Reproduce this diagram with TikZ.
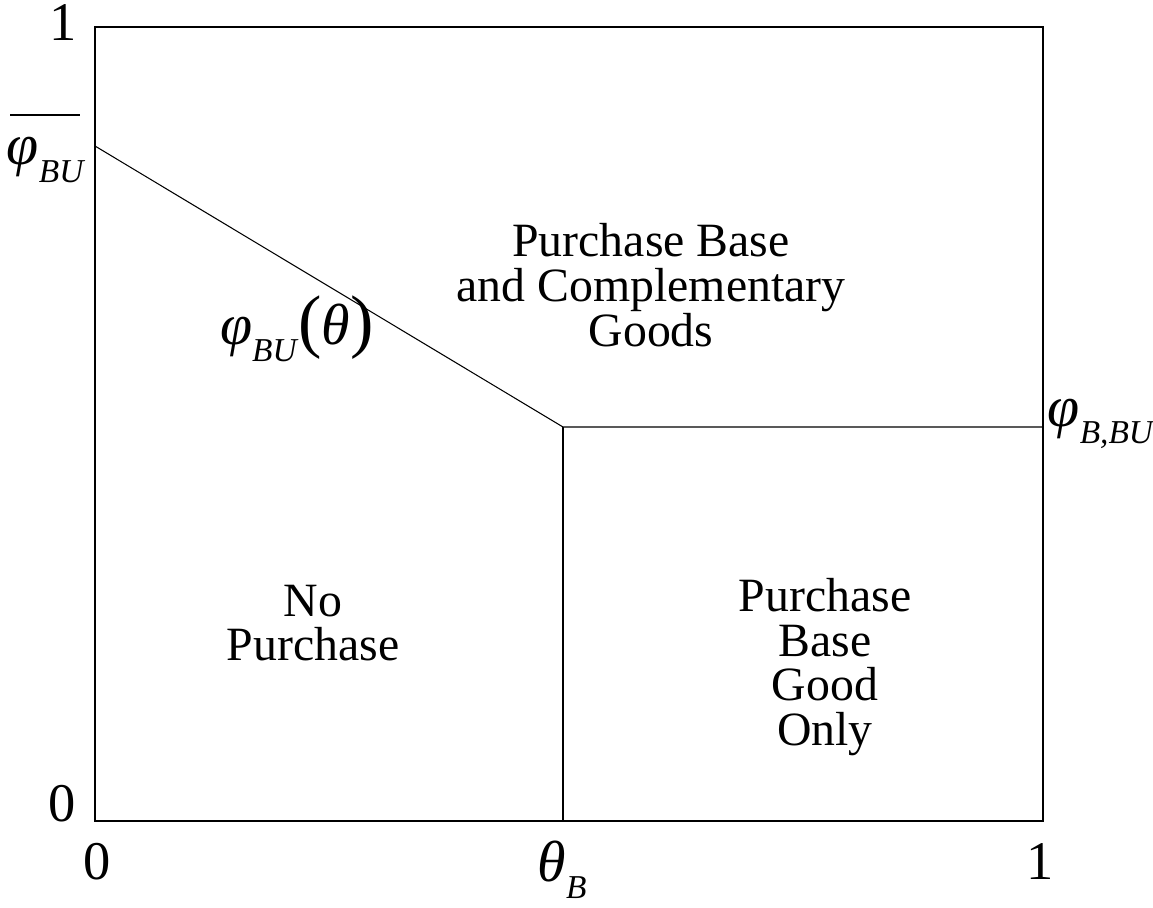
\documentclass[tikz,border=0pt]{standalone}
\usepackage{fontspec}
\setmainfont{Liberation Serif}
\newcommand{\symb}[2]{\textit{#1}\raisebox{-0.3em}{\fontsize{19}{19}\selectfont\textit{#2}}}
\tikzset{
	region/.style={align=center,font=\fontsize{27.2}{25.5}\selectfont},
	tick/.style={font=\fontsize{31}{31}\selectfont,inner sep=0pt},
	sym/.style={font=\fontsize{33}{33}\selectfont,inner sep=0pt},
}
\begin{document}
\begin{tikzpicture}[x=0.02cm,y=-0.02cm,line width=0.8pt]
		\useasboundingbox (0,0) rectangle (1153,907);
		\coordinate (O) at (95,821);
		\coordinate (X) at (1043,821);
		\coordinate (T) at (1043,27);
		\coordinate (Y) at (95,27);
		\coordinate (A) at (95,146);
		\coordinate (K) at (563,427);
		\coordinate (KB) at (563,821);
		\coordinate (KR) at (1043,427);
		\draw (O)--(X)--(T)--(Y)--cycle;
		\draw[line width=0.6pt] (A)--(K)--(KR);
		\draw[line width=0.6pt] (K)--(KB);
		% axis values
		\node[tick] (y1) at (63,23) {1};
		\node[tick] (y0) at (62,804) {0};
		\node[tick] (x0) at (97,862) {0};
		\node[tick] (x1) at (1040,862) {1};
		\node[sym,anchor=north] (thB) at (562,840) {\symb{θ}{B}};
		\node[sym,anchor=west] (phiBBU) at (1047,424) {\symb{φ}{B,BU}};
		\node[sym] (phibar) at (46,160) {\symb{φ}{BU}};
		\draw (10,115)--(80,115);
		\node[sym] (curve) at (297,329) {\symb{φ}{BU}{\fontsize{40}{40}\selectfont(}\textit{θ}{\fontsize{40}{40}\selectfont)}};
		% regions
		\node[region] (both) at (651,285) {Purchase Base\\and Complementary\\Goods};
		\node[region] (none) at (313,623) {No\\Purchase};
		\node[region] (base) at (825,667) {Purchase\\Base\\Good\\Only};
	    \end{tikzpicture}
\end{document}
